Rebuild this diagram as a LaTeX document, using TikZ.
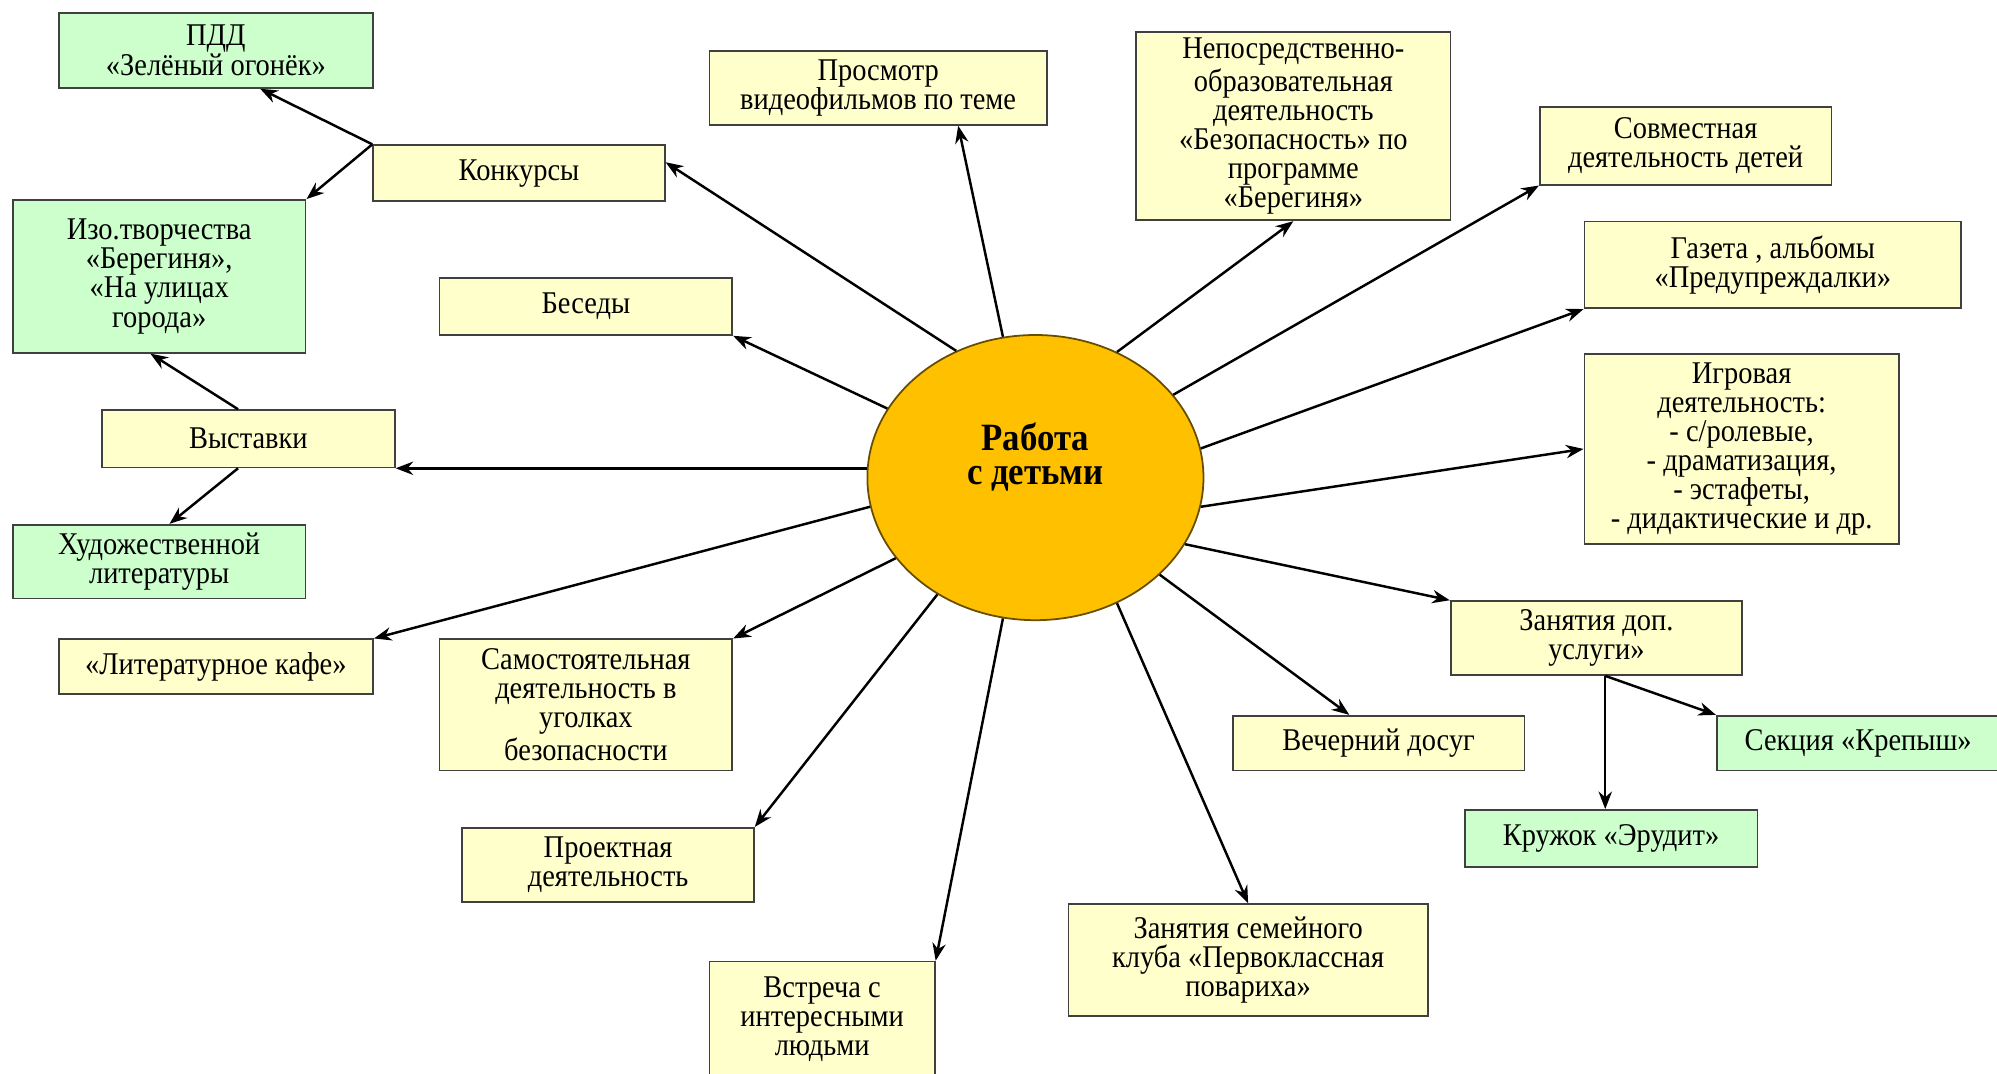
\documentclass[tikz,border=0pt]{standalone}
\usepackage{fontspec}
\setmainfont{Liberation Serif}[FakeStretch=0.9]
\usetikzlibrary{shapes.geometric,arrows.meta,calc}
\definecolor{boxyellow}{HTML}{FFFFCC}
\definecolor{boxgreen}{HTML}{CCFFCC}
\definecolor{suncolor}{HTML}{FFC000}
\begin{document}
\begin{tikzpicture}
[x=0.012736cm,y=-0.012736cm,
  boxdecorate/.style 2 args={shape=rectangle,draw=black!75,line width=0.5pt,align=center,
    inner sep=1pt,minimum width=#1*0.3624pt,minimum height=#2*0.3624pt,
    font=\fontsize{9}{8.3}\selectfont},
  yellowbox/.style 2 args={boxdecorate={#1}{#2},fill=boxyellow},
  greenbox/.style 2 args={boxdecorate={#1}{#2},fill=boxgreen},
  sundecorate/.style={shape=ellipse,draw=black!60!suncolor,line width=0.5pt,fill=suncolor,
    minimum width=264*0.3624pt,minimum height=224*0.3624pt,inner sep=0pt},
  suntext/.style={align=center,inner sep=0pt,font=\bfseries\fontsize{11}{9.7}\selectfont},
  linedecorate/.style={-{Stealth[length=5pt,width=3.8pt]},line width=0.7pt}]
\useasboundingbox (0,0) rectangle (1568,843);
%% centre
\node (centre) at (813,375) [sundecorate] {};
\node (centretext) at (813,359) [suntext] {Работа\\с детьми};
%% green boxes
\node (pdd) at (169.5,39.5) [greenbox={247}{59}] {ПДД\\«Зелёный огонёк»};
\node (izo) at (125,217) [greenbox={230}{120}] {Изо.творчества\\«Берегиня»,\\«На улицах\\города»};
\node (hud) at (125,441) [greenbox={230}{58}] {Художественной\\литературы};
\node (krepysh) at (1459,583.5) [greenbox={222}{43}] {Секция «Крепыш»};
\node (erudit) at (1265,658.5) [greenbox={230}{45}] {Кружок «Эрудит»};
%% yellow boxes
\node (konk) at (407.5,136) [yellowbox={229}{44}] {Конкурсы};
\node (besedy) at (460,240.5) [yellowbox={230}{45}] {Беседы};
\node (vyst) at (195,344.5) [yellowbox={230}{45}] {Выставки};
\node (kafe) at (169.5,523.5) [yellowbox={247}{43}] {«Литературное кафе»};
\node (samost) at (460,553.5) [yellowbox={230}{103}] {Самостоятельная\\деятельность в\\уголках\\безопасности};
\node (proekt) at (477.5,679) [yellowbox={229}{58}] {Проектная\\деятельность};
\node (vstrecha) at (645.5,800) [yellowbox={177}{90}] {Встреча с\\интересными\\людьми};
\node (semya) at (980,754) [yellowbox={282}{88}] {Занятия семейного\\клуба «Первоклассная\\повариха»};
\node (vecher) at (1082.5,583.5) [yellowbox={229}{43}] {Вечерний досуг};
\node (zanyat) at (1253.5,501) [yellowbox={229}{58}] {Занятия доп.\\услуги»};
\node (igra) at (1367.5,352.5) [yellowbox={247}{149}] {Игровая\\деятельность:\\- с/ролевые,\\- драматизация,\\- эстафеты,\\- дидактические и др.};
\node (gazeta) at (1392,208) [yellowbox={296}{68}] {Газета , альбомы\\«Предупреждалки»};
\node (sovm) at (1323.5,114.5) [yellowbox={229}{61}] {Совместная\\деятельность детей};
\node (nod) at (1015.5,99) [yellowbox={247}{148}] {Непосредственно-\\образовательная\\деятельность\\«Безопасность» по\\программе\\«Берегиня»};
\node (video) at (689.5,69) [yellowbox={265}{58}] {Просмотр\\видеофильмов по теме};
%% end points
\coordinate (videoend) at ($(video.south west)!0.736!(video.south east)$);
\coordinate (vecherend) at ($(vecher.north west)!0.40!(vecher.north east)$);
\coordinate (konkend) at ($(konk.north east)!0.31!(konk.south east)$);
\coordinate (pddend) at ($(pdd.south west)!0.64!(pdd.south east)$);
\coordinate (vysttop) at ($(vyst.north west)!0.465!(vyst.north east)$);
\coordinate (vystbot) at ($(vyst.south west)!0.465!(vyst.south east)$);
\coordinate (izoend) at ($(izo.south west)!0.47!(izo.south east)$);
\coordinate (hudend) at ($(hud.north west)!0.535!(hud.north east)$);
\coordinate (zfork) at ($(zanyat.south west)!0.53!(zanyat.south east)$);
\coordinate (vyststart) at (centre.west |- vyst.south east);
%% edges or lines
\path
\foreach \startnode/\endnode in {centre.103/videoend, centre.57/nod.south, centre.31/sovm.south west,
    centre.10/gazeta.south west, centre.350/igra.west, centre.336/zanyat.north west,
    centre.322/vecherend, centre.303/semya.north, centre.257/vstrecha.north east,
    centre.230/proekt.north east, centre.210/samost.north east, centre.190/kafe.north east,
    vyststart/vyst.south east, centre.155/besedy.south east, centre.122/konkend,
    konk.north west/pddend, konk.north west/izo.north east, vysttop/izoend, vystbot/hudend,
    zfork/krepysh.north west} {
  (\startnode) edge[linedecorate] (\endnode)
}
(zfork) edge[linedecorate] (zfork |- erudit.north);
\end{tikzpicture}
\end{document}
